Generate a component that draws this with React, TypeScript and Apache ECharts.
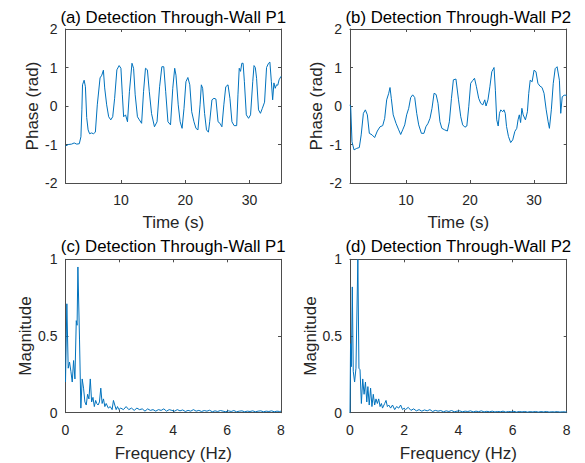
import React, { useEffect, useRef } from "react";
import * as echarts from "echarts";

// ---- Data ----
// Phase signal, person 1: [time (s), phase (rad)]
const phaseP1: number[][] = [
  [1.35, -1.04], [1.8, -1.0], [2.3, -0.99], [2.7, -0.96], [3.1, -0.99], [3.5, -0.98], [3.75, -0.8], [3.9, -0.1],
  [4.0, 0.55], [4.25, 0.67], [4.45, 0.5], [4.65, -0.3], [4.87, -0.62], [5.1, -0.72], [5.4, -0.7], [5.7, -0.72],
  [6.0, -0.68], [6.3, 0.03], [6.73, 0.73], [7.0, 0.8], [7.25, 0.93], [7.45, 0.47], [7.76, 0.03], [8.07, -0.28],
  [8.4, -0.36], [8.7, -0.28], [9.0, 0.2], [9.35, 0.94], [9.7, 1.05], [9.98, 0.98], [10.2, 0.29], [10.4, -0.28],
  [10.7, -0.23], [11.0, -0.41], [11.3, 0.37], [11.7, 1.11], [11.95, 0.98], [12.2, 0.29], [12.55, -0.28],
  [12.85, -0.36], [13.2, -0.45], [13.5, 0.37], [13.8, 0.98], [14.1, 0.94], [14.4, 0.37], [14.75, -0.2],
  [15.2, -0.54], [15.6, -0.41], [16.0, 0.5], [16.35, 1.02], [16.65, 1.02], [16.95, 0.37], [17.3, -0.41],
  [17.7, -0.49], [18.05, 0.46], [18.35, 0.98], [18.55, 0.8], [18.9, 0.03], [19.2, -0.41], [19.5, -0.58],
  [19.8, -0.06], [20.1, 0.63], [20.4, 0.74], [20.7, 0.55], [21.0, -0.15], [21.35, -0.41], [21.66, -0.58],
  [21.97, -0.62], [22.3, 0.03], [22.5, 0.55], [22.7, 0.46], [23.0, -0.19], [23.3, -0.62], [23.6, -0.68],
  [23.8, -0.41], [24.15, 0.16], [24.46, 0.2], [24.77, 0.18], [25.1, -0.41], [25.4, -0.45], [25.7, -0.54],
  [26.0, 0.03], [26.3, 0.5], [26.65, 0.55], [26.95, 0.2], [27.26, -0.41], [27.6, -0.51], [28.0, -0.51],
  [28.2, 0.29], [28.4, 0.98], [28.6, 0.9], [28.8, 1.11], [29.0, 1.11], [29.2, 0.63], [29.5, -0.23],
  [29.85, -0.32], [30.16, -0.23], [30.5, 0.63], [30.7, 1.05], [30.9, 1.0], [31.1, 0.72], [31.4, -0.1],
  [31.7, -0.19], [32.0, -0.06], [32.34, 0.1], [32.65, 1.0], [32.96, 1.11], [33.17, 1.14], [33.4, 0.63],
  [33.6, 0.16], [33.8, 0.6], [34.0, 0.46], [34.2, 0.55], [34.4, 0.54], [34.6, 0.68], [34.9, 0.77],
];

// Phase signal, person 2: [time (s), phase (rad)]
const phaseP2: number[][] = [
  [1.25, 0.03], [1.36, -0.02], [1.56, -0.93], [1.88, -1.14], [2.3, -1.1], [2.7, -1.08], [3.0, -0.75],
  [3.34, -0.19], [3.65, -0.1], [3.96, -0.23], [4.27, -0.71], [4.7, -0.75], [5.1, -0.82], [5.52, -0.65],
  [5.94, -0.54], [6.36, -0.51], [6.67, -0.32], [6.98, 0.16], [7.3, 0.33], [7.5, 0.48], [7.7, 0.2], [8.0, -0.23],
  [8.44, -0.45], [8.86, -0.62], [9.17, -0.74], [9.48, -0.62], [9.8, -0.49], [10.1, -0.23], [10.42, -0.06],
  [10.73, 0.22], [11.04, 0.29], [11.36, 0.22], [11.67, -0.19], [11.98, -0.49], [12.4, -0.71], [12.8, -0.71],
  [13.1, -0.54], [13.44, -0.45], [13.75, -0.32], [14.06, -0.06], [14.38, 0.33], [14.7, 0.3], [15.0, 0.07],
  [15.3, -0.41], [15.6, -0.58], [16.04, -0.62], [16.46, -0.65], [16.77, -0.41], [17.1, 0.2], [17.4, 0.68],
  [17.8, 0.7], [18.2, 0.16], [18.55, -0.28], [18.85, -0.49], [19.2, -0.55], [19.5, -0.52], [19.8, -0.02],
  [20.1, 0.59], [20.4, 0.66], [20.7, 0.72], [21.0, 0.5], [21.35, 0.2], [21.67, 0.07], [22.0, 0.03],
  [22.3, 0.16], [22.5, 0.0], [22.8, 0.16], [23.1, 0.5], [23.4, 0.89], [23.75, 1.0], [23.96, 0.41],
  [24.17, -0.36], [24.4, -0.52], [24.6, -0.19], [24.8, -0.1], [25.1, -0.15], [25.3, -0.1], [25.5, -0.19],
  [25.7, -0.53], [26.0, -0.79], [26.35, -0.95], [26.67, -0.88], [27.0, -0.66], [27.3, -0.58], [27.5, -0.36],
  [27.7, -0.23], [27.9, -0.43], [28.1, -0.06], [28.3, -0.23], [28.65, -0.36], [28.96, -0.15], [29.17, 0.33],
  [29.4, 0.67], [29.7, 0.63], [30.0, 0.93], [30.3, 0.89], [30.6, 0.59], [30.9, 0.52], [31.25, 0.48],
  [31.56, 0.33], [31.9, -0.1], [32.2, -0.41], [32.4, -0.58], [32.7, -0.1], [33.0, 0.59], [33.3, 0.97],
  [33.6, 1.02], [33.96, 0.67], [34.17, -0.19], [34.4, 0.24], [34.7, 0.28], [35.1, 0.28],
];

// Spectrum, person 1: [frequency (Hz), magnitude]
const spectrumP1: number[][] = [
  [0, 0.2], [0.05, 0.71], [0.1, 0.29], [0.15, 0.33], [0.2, 0.27], [0.25, 0.2], [0.3, 0.34], [0.35, 0.22],
  [0.4, 0.6], [0.43, 0.57], [0.46, 0.95], [0.52, 0.48], [0.57, 0.03], [0.62, 0.22], [0.67, 0.16], [0.72, 0.07],
  [0.77, 0.05], [0.82, 0.12], [0.87, 0.09], [0.92, 0.22], [0.97, 0.07], [1.02, 0.1], [1.07, 0.04], [1.12, 0.08],
  [1.16, 0.06], [1.21, 0.05], [1.26, 0.07], [1.31, 0.16], [1.36, 0.06], [1.41, 0.09], [1.46, 0.04], [1.51, 0.06],
  [1.59, 0.03], [1.66, 0.04], [1.73, 0.02], [1.78, 0.08], [1.83, 0.05], [1.88, 0.02], [1.93, 0.04], [1.98, 0.02],
  [2.05, 0.03], [2.15, 0.02], [2.25, 0.04], [2.35, 0.02], [2.45, 0.03], [2.55, 0.015], [2.65, 0.03], [2.75, 0.02],
  [2.85, 0.025], [2.95, 0.01], [3.05, 0.025], [3.15, 0.015], [3.25, 0.02], [3.35, 0.01], [3.45, 0.02], [3.55, 0.015],
  [3.65, 0.025], [3.75, 0.01], [3.85, 0.02], [3.95, 0.015], [4.05, 0.01], [4.15, 0.02], [4.25, 0.012], [4.35, 0.018],
  [4.45, 0.008], [4.55, 0.015], [4.65, 0.01], [4.75, 0.02], [4.85, 0.01], [4.95, 0.015], [5.05, 0.008], [5.15, 0.014],
  [5.25, 0.01], [5.35, 0.016], [5.45, 0.006], [5.55, 0.012], [5.65, 0.008], [5.75, 0.014], [5.85, 0.01], [5.95, 0.006],
  [6.05, 0.012], [6.15, 0.008], [6.25, 0.014], [6.35, 0.006], [6.45, 0.01], [6.55, 0.012], [6.65, 0.006], [6.75, 0.01],
  [6.85, 0.008], [6.95, 0.012], [7.05, 0.006], [7.15, 0.01], [7.25, 0.012], [7.35, 0.006], [7.45, 0.01], [7.55, 0.008],
  [7.65, 0.012], [7.75, 0.006], [7.85, 0.01], [7.95, 0.008], [8.0, 0.01],
];

// Spectrum, person 2: [frequency (Hz), magnitude]
const spectrumP2: number[][] = [
  [0, 0.0], [0.02, 0.45], [0.05, 0.3], [0.085, 0.82], [0.12, 0.27], [0.17, 0.2], [0.22, 0.29], [0.29, 1.0],
  [0.33, 0.29], [0.37, 0.28], [0.42, 0.06], [0.47, 0.22], [0.52, 0.12], [0.57, 0.2], [0.62, 0.07], [0.66, 0.17],
  [0.71, 0.05], [0.76, 0.16], [0.81, 0.04], [0.86, 0.12], [0.91, 0.05], [0.96, 0.09], [1.01, 0.06], [1.06, 0.09],
  [1.11, 0.04], [1.16, 0.06], [1.2, 0.03], [1.28, 0.06], [1.33, 0.08], [1.38, 0.04], [1.43, 0.05], [1.5, 0.03],
  [1.57, 0.05], [1.65, 0.02], [1.72, 0.04], [1.8, 0.03], [1.87, 0.05], [1.94, 0.02], [2.0, 0.03], [2.05, 0.02],
  [2.15, 0.035], [2.25, 0.015], [2.35, 0.025], [2.45, 0.012], [2.55, 0.02], [2.65, 0.01], [2.75, 0.018], [2.85, 0.012],
  [2.95, 0.02], [3.05, 0.008], [3.15, 0.015], [3.25, 0.01], [3.35, 0.014], [3.45, 0.006], [3.55, 0.012], [3.65, 0.008],
  [3.75, 0.014], [3.85, 0.006], [3.95, 0.01], [4.05, 0.012], [4.15, 0.006], [4.25, 0.01], [4.35, 0.008], [4.45, 0.012],
  [4.55, 0.005], [4.65, 0.01], [4.75, 0.007], [4.85, 0.012], [4.95, 0.005], [5.05, 0.009], [5.15, 0.006], [5.25, 0.01],
  [5.35, 0.005], [5.45, 0.008], [5.55, 0.006], [5.65, 0.01], [5.75, 0.004], [5.85, 0.008], [5.95, 0.006], [6.05, 0.009],
  [6.15, 0.004], [6.25, 0.008], [6.35, 0.005], [6.45, 0.008], [6.55, 0.004], [6.65, 0.007], [6.75, 0.005], [6.85, 0.008],
  [6.95, 0.004], [7.05, 0.007], [7.15, 0.005], [7.25, 0.008], [7.35, 0.004], [7.45, 0.006], [7.55, 0.005], [7.65, 0.007],
  [7.75, 0.004], [7.85, 0.006], [7.95, 0.005], [8.0, 0.006],
];

const titles = [
  "(a) Detection Through-Wall P1",
  "(b) Detection Through-Wall P2",
  "(c) Detection Through-Wall P1",
  "(d) Detection Through-Wall P2",
];
const timeTicks = [10, 20, 30];
const timeRangeP1 = [1.35, 34.9];
const timeRangeP2 = [1.25, 35.1];

const FONT = '"Liberation Sans", Arial, Helvetica, sans-serif';
const AXIS_COLOR = "#4d4d4d";
const TEXT_COLOR = "#262626";
const LINE_COLOR = "#0072BD";

const grids = [
  { left: 65.5, top: 29, width: 215.5, height: 154 },
  { left: 350, top: 29, width: 216.7, height: 154 },
  { left: 65.5, top: 259.3, width: 215.5, height: 153.4 },
  { left: 350, top: 259.3, width: 216.7, height: 153.4 },
];

function buildOption() {
  const xAxis: any[] = [];
  const yAxis: any[] = [];
  const axisLine = { show: true, onZero: false, lineStyle: { color: AXIS_COLOR, width: 1 } };
  const tick = (custom?: number[]) => ({
    show: true,
    inside: true,
    length: 3,
    lineStyle: { color: AXIS_COLOR, width: 1 },
    ...(custom ? { customValues: custom } : {}),
  });
  const label = (show: boolean, custom?: number[]) => ({
    show,
    color: TEXT_COLOR,
    fontFamily: FONT,
    fontSize: 14,
    margin: 10,
    ...(custom ? { customValues: custom } : {}),
  });
  const nameStyle = { color: TEXT_COLOR, fontFamily: FONT, fontSize: 17 };

  grids.forEach((_, i) => {
    const isTime = i < 2;
    const range = i === 0 ? timeRangeP1 : i === 1 ? timeRangeP2 : [0, 8];
    const base: any = {
      type: "value",
      gridIndex: i,
      min: range[0],
      max: range[1],
      splitLine: { show: false },
      axisLine,
    };
    if (!isTime) base.interval = 2;
    xAxis.push({
      ...base,
      position: "bottom",
      axisTick: tick(isTime ? timeTicks : undefined),
      axisLabel: label(true, isTime ? timeTicks : undefined),
      name: isTime ? "Time (s)" : "Frequency (Hz)",
      nameLocation: "middle",
      nameGap: isTime ? 30.5 : 32,
      nameTextStyle: nameStyle,
    });
    xAxis.push({
      ...base,
      position: "top",
      axisTick: tick(isTime ? timeTicks : undefined),
      axisLabel: { show: false },
    });

    const ybase: any = {
      type: "value",
      gridIndex: i,
      min: isTime ? -2 : 0,
      max: isTime ? 2 : 1,
      interval: isTime ? 1 : 0.5,
      splitLine: { show: false },
      axisLine,
    };
    yAxis.push({
      ...ybase,
      position: "left",
      axisTick: tick(),
      axisLabel: { ...label(true), margin: 8 },
      name: isTime ? "Phase (rad)" : "Magnitude",
      nameLocation: "middle",
      nameGap: 25,
      nameTextStyle: nameStyle,
    });
    yAxis.push({
      ...ybase,
      position: "right",
      axisTick: tick(),
      axisLabel: { show: false },
    });
  });

  const seriesData = [phaseP1, phaseP2, spectrumP1, spectrumP2];
  const series = seriesData.map((d, i) => ({
    type: "line",
    xAxisIndex: i * 2,
    yAxisIndex: i * 2,
    data: d,
    showSymbol: false,
    symbol: "none",
    clip: true,
    lineStyle: { color: LINE_COLOR, width: 1 },
  }));

  const title = titles.map((t, i) => ({
    text: t,
    left: grids[i].left + grids[i].width / 2,
    top: i < 2 ? 8.5 : 237.5,
    textAlign: "center",
    textStyle: { color: "#000", fontFamily: FONT, fontSize: 16.8, fontWeight: "normal" },
    padding: 0,
  }));

  return {
    animation: false,
    backgroundColor: "#ffffff",
    title,
    grid: grids.map((g) => ({ ...g, containLabel: false })),
    xAxis,
    yAxis,
    series,
  };
}

export default function App() {
  const ref = useRef<HTMLDivElement>(null);
  useEffect(() => {
    if (!ref.current) return;
    const chart = echarts.init(ref.current, undefined, { renderer: "svg" });
    chart.setOption(buildOption() as any);
    return () => chart.dispose();
  }, []);
  return (
    <div
      ref={ref}
      style={{ position: "fixed", left: 0, top: 0, width: 585, height: 463, background: "#fff" }}
    />
  );
}
